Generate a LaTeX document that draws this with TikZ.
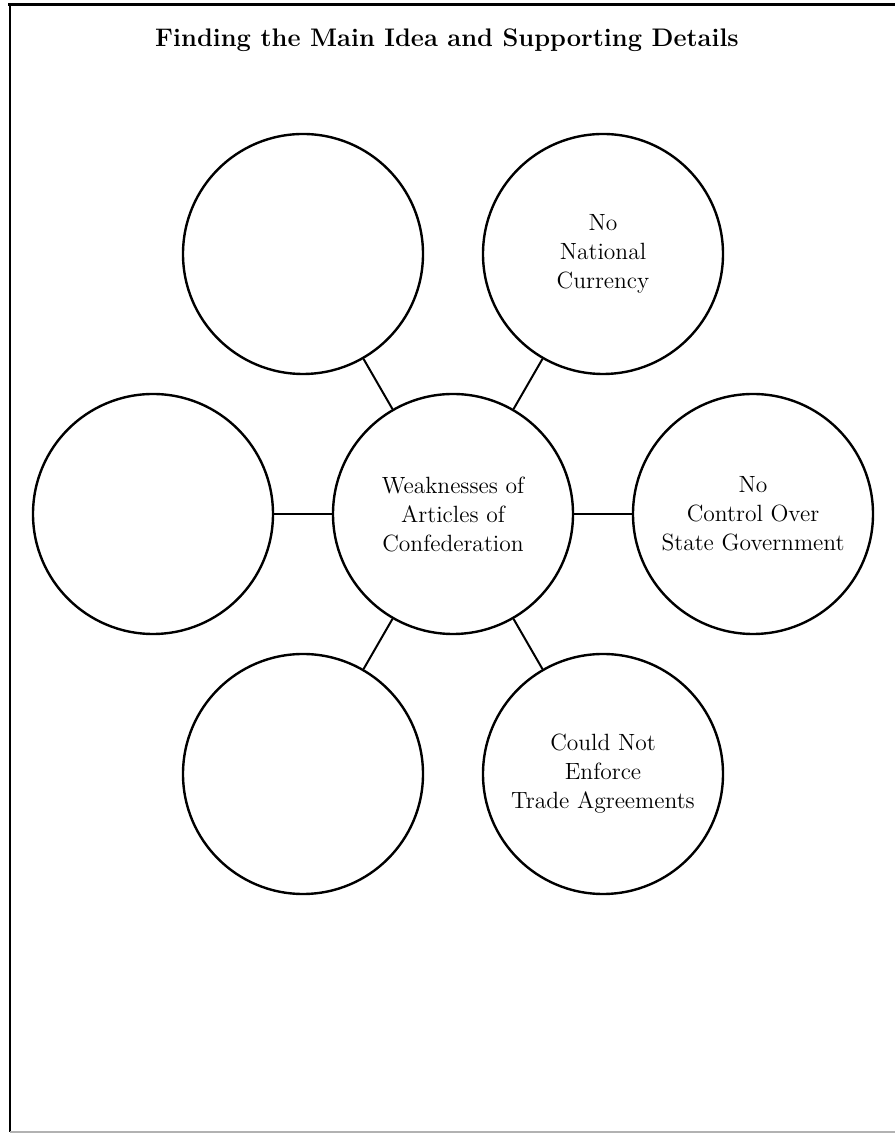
\documentclass[tikz,border=0pt]{standalone}
\usepackage{tikz}
\usetikzlibrary{positioning}

\begin{document}
\begin{tikzpicture}[x=0.5pt, y=0.5pt, idea/.style={circle, draw, line width=1.2pt, minimum size=120pt, inner sep=0pt, align=center, on grid, font={\fontsize{11.75}{14.5}\selectfont}}, link/.style={line width=1pt}, frameline/.style={line width=1.5pt}]
\useasboundingbox (0,0) rectangle (895,1134);
% page frame
\draw[frameline] (8,1129) -- (895,1129);
\draw[line width=1.1pt] (10,1129) -- (10,2);
\draw[gray!60, line width=0.6pt] (10,2) -- (895,2);
\node[anchor=base, font={\fontsize{12.7}{16}\selectfont\bfseries}] (title) at (447,1087) {Finding the Main Idea and Supporting Details};
% main idea and details
\node[idea] (weak) at (453,620) {Weaknesses of\\Articles of\\Confederation};
\node[idea, above left=130pt and 75pt of weak] (dtl) {};
\node[idea, above right=130pt and 75pt of weak] (currency) {No\\National\\Currency};
\node[idea, left=150pt of weak] (dl) {};
\node[idea, right=150pt of weak] (control) {No\\Control Over\\State Government};
\node[idea, below left=130pt and 75pt of weak] (dbl) {};
\node[idea, below right=130pt and 75pt of weak] (trade) {Could Not\\Enforce\\Trade Agreements};
\draw[link] (weak) -- (dtl);
\draw[link] (weak) -- (currency);
\draw[link] (weak) -- (dl);
\draw[link] (weak) -- (control);
\draw[link] (weak) -- (dbl);
\draw[link] (weak) -- (trade);
\end{tikzpicture}
\end{document}
